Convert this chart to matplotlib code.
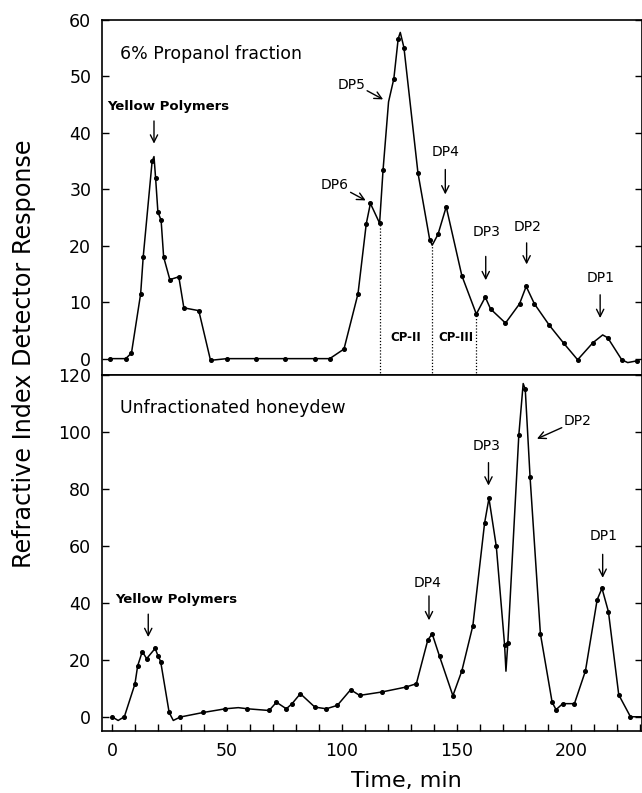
import matplotlib
matplotlib.use("Agg")
import matplotlib.pyplot as plt
from matplotlib.ticker import MultipleLocator

# ---- data: 6% propanol fraction (top panel) ----
top_time = [-1, 6, 8.5, 12.5, 13.6, 17.5, 18.3, 19.0, 20.0, 21.4, 22.5, 25.2, 29.1, 31.3,
            37.8, 42.9, 50.1, 62.6, 75.2, 88.3, 94.8, 101, 107.1, 110.7, 112.5, 116.5,
            118, 120.4, 122.7, 124.6, 125.5, 127.1, 133.2, 138.3, 139.4, 141.9, 145.5, 152.3,
            158.6, 162.5, 164.8, 171.3, 177.4, 180.3, 183.9, 190.4, 196.7, 202.7, 209.3,
            213.6, 215.8, 221.9, 224.5, 228.4]
top_resp = [0, 0, 1, 11.5, 18, 35, 35.8, 32, 26, 24.5, 18, 14, 14.5, 9,
            8.5, -0.3, 0, 0, 0, 0, 0, 1.7, 11.5, 23.9, 27.5, 24,
            33.4, 45.5, 49.6, 56.7, 57.8, 55.1, 32.9, 21.1, 20.1, 22, 26.9, 14.7,
            7.9, 10.9, 8.8, 6.3, 9.7, 12.8, 9.7, 5.9, 2.7, -0.2, 2.8,
            4.2, 3.7, -0.2, -0.7, -0.4]
top_unmarked = [6, 27, 30, 34, 49, 52]

# ---- data: unfractionated honeydew (bottom panel) ----
bot_time = [0, 2.7, 5.4, 10, 11.2, 13.2, 15.1, 18.8, 20, 21.2, 24.9, 26.7, 29.7, 39.7,
            49.4, 55, 59.0, 68.4, 71.6, 75.9, 78.4, 82, 88.3, 93.3, 98.1, 103.9, 107.8,
            117.5, 127.8, 132.5, 137.5, 139.4, 142.6, 148.4, 152.3, 157.1, 162.2, 164.1,
            167.3, 170.9, 171.5, 172.3, 177.1, 179.0, 179.9, 182.0, 186.5, 191.6, 193.3,
            196.2, 201.3, 206.1, 211.2, 213.3, 216.1, 220.6, 225.7, 231]
bot_resp = [0, -1.3, 0, 11.5, 17.9, 22.9, 20.4, 24.0, 21.5, 19.4, 1.5, -1.3, -0.1, 1.5,
            2.8, 3.2, 2.8, 2.2, 5.1, 2.8, 4.6, 8.1, 3.4, 2.8, 4.0, 9.5, 7.5,
            8.7, 10.4, 11.6, 27.0, 29.1, 21.2, 7.4, 16.1, 32.0, 68.0, 76.7,
            59.8, 25.3, 16, 25.8, 98.9, 117, 115, 84.1, 29.1, 5.1, 2.5,
            4.6, 4.6, 16.1, 41.1, 45.1, 36.9, 7.7, 0, 0]
bot_unmarked = [1, 11, 15, 40, 43, 57]

# fraction cut points (dotted lines) and their response at the curve
cut_time = [116.5, 139.4, 158.4]
cut_resp = [24, 20.1, 7.9]

x_major = [0, 50, 100, 150, 200]

fig = plt.figure(figsize=(6.42, 7.93), dpi=100)
L, R = 102.3 / 642, 641.5 / 642
y_top_top = 1 - 20 / 793
y_mid = 1 - 375 / 793
y_bot = 1 - 731 / 793
ax1 = fig.add_axes([L, y_mid, R - L, y_top_top - y_mid])
ax2 = fig.add_axes([L, y_bot, R - L, y_mid - y_bot])

def marks(n, unmarked):
    return [i for i in range(n) if i not in unmarked]

ax1.plot(top_time, top_resp, color="black", lw=1.1, marker="o", ms=2.6,
         markevery=marks(len(top_time), top_unmarked))
ax2.plot(bot_time, bot_resp, color="black", lw=1.1, marker="o", ms=2.6,
         markevery=marks(len(bot_time), bot_unmarked))

for t, r in zip(cut_time, cut_resp):
    ax1.plot([t, t], [-3, r], color="black", lw=0.9, ls=(0, (1, 1.5)))

xlim = (-4.2, 230.5)
ax1.set_xlim(*xlim)
ax2.set_xlim(*xlim)
ax1.set_ylim(-2.9, 60)
ax2.set_ylim(-5, 120)

for ax in (ax1, ax2):
    for s in ax.spines.values():
        s.set_linewidth(1.2)
    ax.tick_params(axis="y", which="both", direction="in", left=True, right=True,
                   labelsize=12.5, length=5, width=1, pad=8)

ax1.yaxis.set_major_locator(MultipleLocator(10))
ax2.yaxis.set_major_locator(MultipleLocator(20))
ax1.tick_params(axis="x", which="both", bottom=False, top=False, labelbottom=False)
ax2.set_xticks(x_major)
ax2.xaxis.set_minor_locator(MultipleLocator(10))
ax2.tick_params(axis="x", which="both", direction="in", top=False, length=5,
                width=1, labelsize=12.5, pad=8)

arrow = dict(arrowstyle="->", color="black", lw=1.0, mutation_scale=13)
small = dict(fontsize=10, ha="center", va="center")

# top annotations
ax1.text(3.5, 54, "6% Propanol fraction", fontsize=12.5, ha="left", va="center")
ax1.text(24.4, 44.6, "Yellow Polymers", fontsize=9.5, fontweight="bold", ha="center", va="center")
ax1.annotate("", xy=(18.3, 37.6), xytext=(18.3, 42.6), arrowprops=arrow)
ax1.text(104.2, 48.5, "DP5", **small)
ax1.annotate("", xy=(119.1, 45.7), xytext=(110, 47.7), arrowprops=arrow)
ax1.text(97, 30.8, "DP6", **small)
ax1.annotate("", xy=(111.5, 27.8), xytext=(102.8, 29.7), arrowprops=arrow)
ax1.text(145.1, 36.6, "DP4", **small)
ax1.annotate("", xy=(145.1, 28.6), xytext=(145.1, 34.0), arrowprops=arrow)
ax1.text(162.9, 22.4, "DP3", **small)
ax1.annotate("", xy=(162.7, 13.4), xytext=(162.7, 18.6), arrowprops=arrow)
ax1.text(181, 23.3, "DP2", **small)
ax1.annotate("", xy=(180.5, 16.2), xytext=(180.5, 21.0), arrowprops=arrow)
ax1.text(212.5, 14.2, "DP1", **small)
ax1.annotate("", xy=(212.5, 6.7), xytext=(212.5, 11.8), arrowprops=arrow)
ax1.text(127.8, 3.7, "CP-II", fontsize=8.5, fontweight="bold", ha="center", va="center")
ax1.text(149.9, 3.7, "CP-III", fontsize=8.5, fontweight="bold", ha="center", va="center")

# bottom annotations
ax2.text(3.5, 108.3, "Unfractionated honeydew", fontsize=12.5, ha="left", va="center")
ax2.text(27.8, 41.3, "Yellow Polymers", fontsize=9.5, fontweight="bold", ha="center", va="center")
ax2.annotate("", xy=(15.8, 27.0), xytext=(15.8, 37.0), arrowprops=arrow)
ax2.text(137.2, 47.1, "DP4", **small)
ax2.annotate("", xy=(138.0, 32.9), xytext=(138.0, 43.4), arrowprops=arrow)
ax2.text(162.9, 95.1, "DP3", **small)
ax2.annotate("", xy=(163.9, 80.2), xytext=(163.9, 90.2), arrowprops=arrow)
ax2.text(202.8, 103.9, "DP2", **small)
ax2.annotate("", xy=(183.9, 97.2), xytext=(196.9, 101.9), arrowprops=arrow)
ax2.text(213.9, 63.3, "DP1", **small)
ax2.annotate("", xy=(213.6, 47.8), xytext=(213.6, 58.0), arrowprops=arrow)

fig.text(24 / 642, 1 - 354 / 793, "Refractive Index Detector Response", rotation=90,
         fontsize=17.2, ha="center", va="center")
fig.text(406 / 642, 1 - 781 / 793, "Time, min", fontsize=16, ha="center", va="center")

fig.savefig("out.png", dpi=100)
